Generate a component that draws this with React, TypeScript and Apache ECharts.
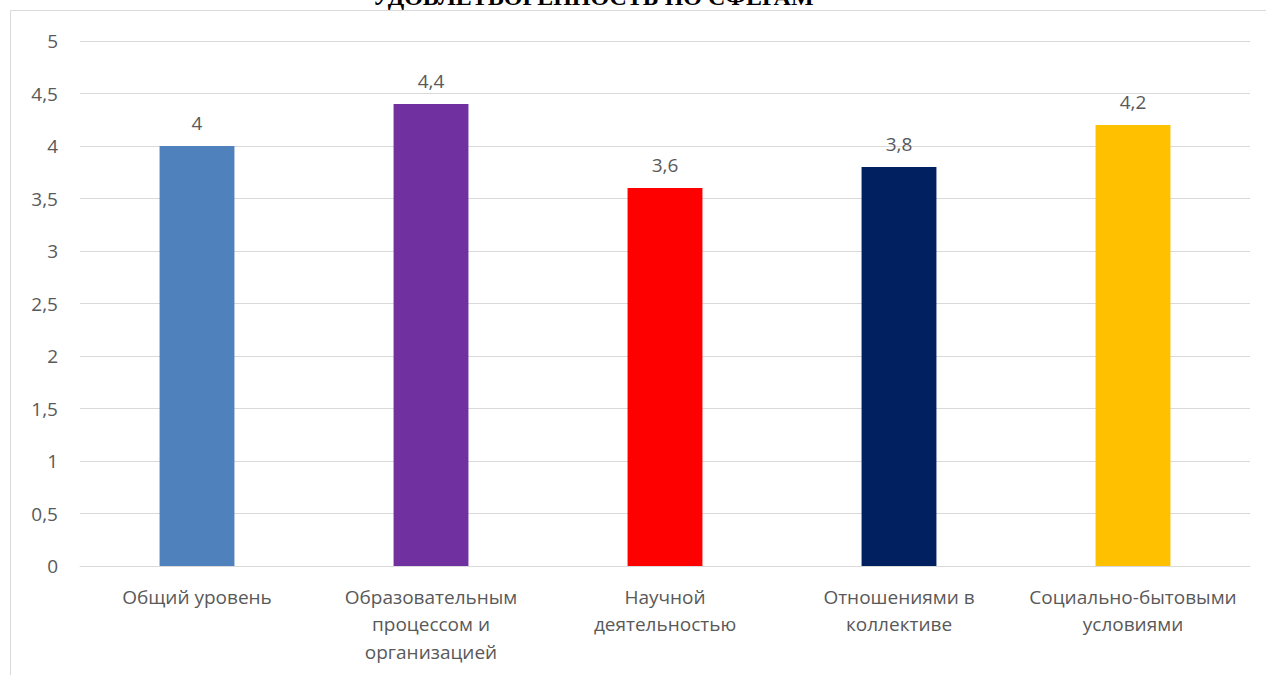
import React, { useEffect, useRef } from "react";
import * as echarts from "echarts";

const categories = [
  "Общий уровень",
  "Образовательным\nпроцессом и\nорганизацией",
  "Научной\nдеятельностью",
  "Отношениями в\nколлективе",
  "Социально-бытовыми\nусловиями",
];
const values = [4, 4.4, 3.6, 3.8, 4.2];
const barColors = ["#4F81BD", "#7030A0", "#FF0000", "#002060", "#FFC000"];
const titleText = "УДОВЛЕТВОРЕННОСТЬ ПО СФЕРАМ";

const fmt = (v: number) => String(v).replace(".", ",");

export default function App() {
  const ref = useRef<HTMLDivElement>(null);
  useEffect(() => {
    document.body.style.margin = "0";
    const chart = echarts.init(ref.current!, null, { renderer: "svg" });
    const font = "Open Sans";
    chart.setOption({
      animation: false,
      backgroundColor: "#ffffff",
      graphic: [
        {
          type: "rect",
          shape: { x: 10.5, y: 10.5, width: 1300, height: 720 },
          style: { fill: "none", stroke: "#D9D9D9", lineWidth: 1 },
          silent: true,
          z: -1,
        },
        {
          type: "text",
          x: 593,
          y: 9,
          style: {
            text: titleText,
            font: "bold 24px 'Liberation Serif'",
            fill: "#000000",
            textAlign: "center",
            textVerticalAlign: "bottom",
          },
        },
      ],
      grid: { left: 80, right: 16, top: 41, bottom: 109, containLabel: false },
      xAxis: {
        type: "category",
        data: categories,
        axisLine: { show: true, lineStyle: { color: "#D9D9D9" } },
        axisTick: { show: false },
        axisLabel: {
          color: "#595959",
          fontFamily: font,
          fontSize: 19,
          lineHeight: 27.5,
          margin: 17,
          interval: 0,
        },
      },
      yAxis: {
        type: "value",
        min: 0,
        max: 5,
        interval: 0.5,
        axisLine: { show: false },
        axisTick: { show: false },
        splitLine: { lineStyle: { color: "#D9D9D9" } },
        axisLabel: {
          color: "#595959",
          fontFamily: font,
          fontSize: 19,
          margin: 22,
          formatter: (v: number) => fmt(v),
        },
      },
      series: [
        {
          type: "bar",
          barWidth: "32%",
          data: values.map((v, i) => ({ value: v, itemStyle: { color: barColors[i] } })),
          label: {
            show: true,
            position: "top",
            distance: 14,
            color: "#595959",
            fontFamily: font,
            fontSize: 19,
            formatter: (p: any) => fmt(p.value),
          },
        },
      ],
    });
    return () => chart.dispose();
  }, []);
  return <div ref={ref} style={{ width: 1266, height: 675 }} />;
}
